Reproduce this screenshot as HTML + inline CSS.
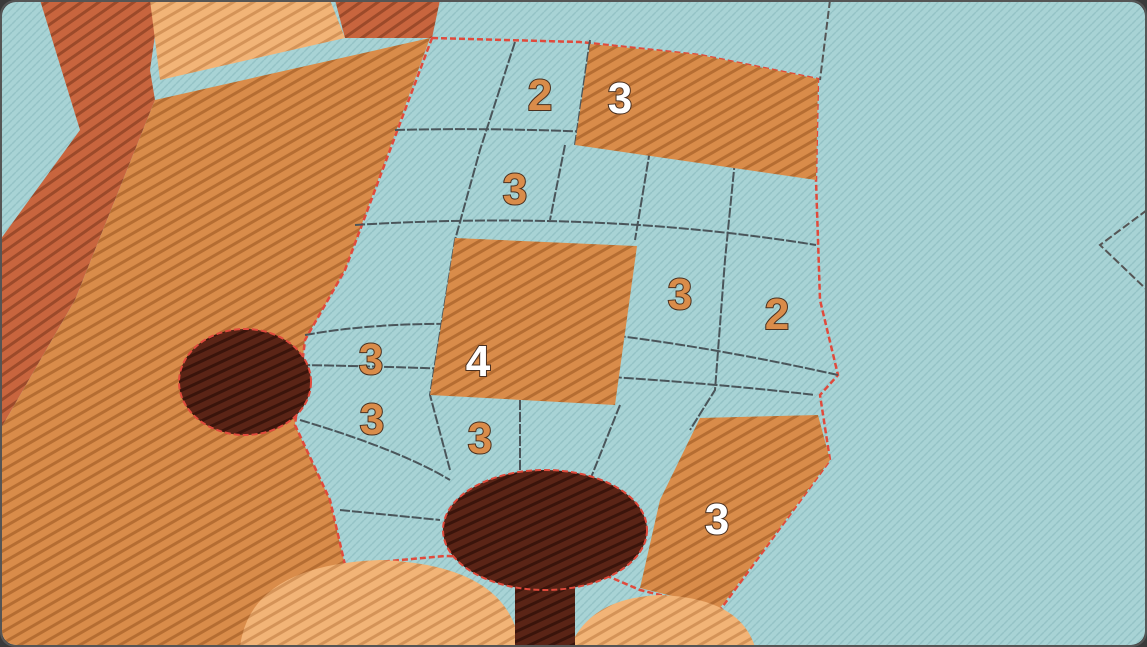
<!DOCTYPE html>
<html><head><meta charset="utf-8"><style>
html,body{margin:0;padding:0;background:#3a3a3a;width:1147px;height:647px;overflow:hidden;}
svg{display:block}
text{font-family:"Liberation Sans",sans-serif;font-weight:bold;font-size:44px;}
</style></head><body>
<svg width="1147" height="647" viewBox="0 0 1147 647">
<defs>
<pattern id="knit" width="8" height="8" patternUnits="userSpaceOnUse"><rect width="8" height="8" fill="#a8d3d5"/><path d="M0 4 L4 0 M4 8 L8 4" stroke="#94c3c6" stroke-width="1.5"/></pattern>
<pattern id="orange" width="10" height="10" patternUnits="userSpaceOnUse" patternTransform="rotate(-30)"><rect width="10" height="10" fill="#d98c4a"/><rect y="7" width="10" height="3" fill="#b56d32"/></pattern>
<pattern id="red" width="10" height="10" patternUnits="userSpaceOnUse" patternTransform="rotate(-35)"><rect width="10" height="10" fill="#c8653e"/><rect y="7" width="10" height="3" fill="#9c4a2a"/></pattern>
<pattern id="tan" width="10" height="10" patternUnits="userSpaceOnUse" patternTransform="rotate(-30)"><rect width="10" height="10" fill="#f2b477"/><rect y="7" width="10" height="3" fill="#d49358"/></pattern>
<pattern id="brown" width="9" height="9" patternUnits="userSpaceOnUse" patternTransform="rotate(-25)"><rect width="9" height="9" fill="#5a2416"/><rect y="6" width="9" height="3" fill="#3a140b"/></pattern>
<clipPath id="frame"><rect x="2" y="2" width="1143" height="643" rx="14"/></clipPath>
</defs>
<g clip-path="url(#frame)">
<rect width="1147" height="647" fill="url(#knit)"/>
<path d="M830 0 L820 80 M1147 210 L1100 245 L1147 290" stroke="#555" stroke-width="2" stroke-dasharray="8 3" fill="none"/>
<polygon fill="url(#red)" points="40,0 160,0 150,70 155,100 75,300 0,430 0,240 80,130"/>
<polygon fill="url(#red)" points="335,0 440,0 432,38 345,38"/>
<polygon fill="url(#tan)" points="150,0 330,0 345,38 160,80"/>
<polygon fill="url(#orange)" points="155,100 430,38 345,270 305,340 295,425 330,500 345,565 260,647 0,647 0,430 75,300"/>
<polygon fill="url(#knit)" stroke="#e04a3c" stroke-width="2.5" stroke-dasharray="6 3" points="432,38 580,42 700,55 818,79 816,180 820,300 838,375 820,395 830,460 720,610 640,590 570,560 445,556 345,565 330,500 295,425 305,340 345,270"/>
<g stroke="#4a555a" stroke-width="2" stroke-dasharray="10 2" fill="none">
<path d="M395 130 Q600 125 816 150"/><path d="M355 225 Q600 210 816 245"/><path d="M305 335 Q500 300 838 375"/><path d="M300 365 Q600 370 815 395"/><path d="M300 420 Q400 450 450 480"/><path d="M340 510 L440 520"/>
<path d="M515 42 L480 150 L455 240 L430 395 L450 470"/><path d="M590 40 L575 145"/><path d="M565 145 L550 220"/><path d="M650 150 L635 240"/><path d="M735 160 L725 260 L715 390 L690 430"/><path d="M520 400 L520 470"/><path d="M620 405 L590 480"/>
</g>
<polygon fill="url(#orange)" points="590,44 700,55 818,79 816,180 575,145"/>
<polygon fill="url(#orange)" points="455,238 637,246 615,405 430,395"/>
<polygon fill="url(#orange)" points="700,418 818,415 830,460 720,608 640,588 660,500"/>
<ellipse cx="245" cy="382" rx="66" ry="53" fill="url(#brown)" stroke="#e04a3c" stroke-width="2" stroke-dasharray="6 3"/>
<path d="M240 647 Q250 565 380 560 Q510 565 520 647 Z" fill="url(#tan)"/>
<path d="M570 647 Q590 598 660 595 Q740 598 755 647 Z" fill="url(#tan)"/>
<rect x="515" y="570" width="60" height="75" fill="url(#brown)"/>
<ellipse cx="545" cy="530" rx="102" ry="60" fill="url(#brown)" stroke="#e04a3c" stroke-width="2" stroke-dasharray="6 3"/>
<g stroke="#4a3020" stroke-width="2" paint-order="stroke" text-anchor="middle">
<text x="540" y="110" fill="#d98c4a">2</text>
<text x="620" y="113" fill="#fff">3</text>
<text x="515" y="204" fill="#d98c4a">3</text>
<text x="680" y="309" fill="#d98c4a">3</text>
<text x="777" y="329" fill="#d98c4a">2</text>
<text x="371" y="374" fill="#d98c4a">3</text>
<text x="478" y="376" fill="#fff">4</text>
<text x="372" y="434" fill="#d98c4a">3</text>
<text x="480" y="453" fill="#d98c4a">3</text>
<text x="717" y="534" fill="#fff">3</text>
</g>
</g>
<rect x="1" y="1" width="1145" height="645" rx="14" fill="none" stroke="#555" stroke-width="2"/>
</svg>
</body></html>
